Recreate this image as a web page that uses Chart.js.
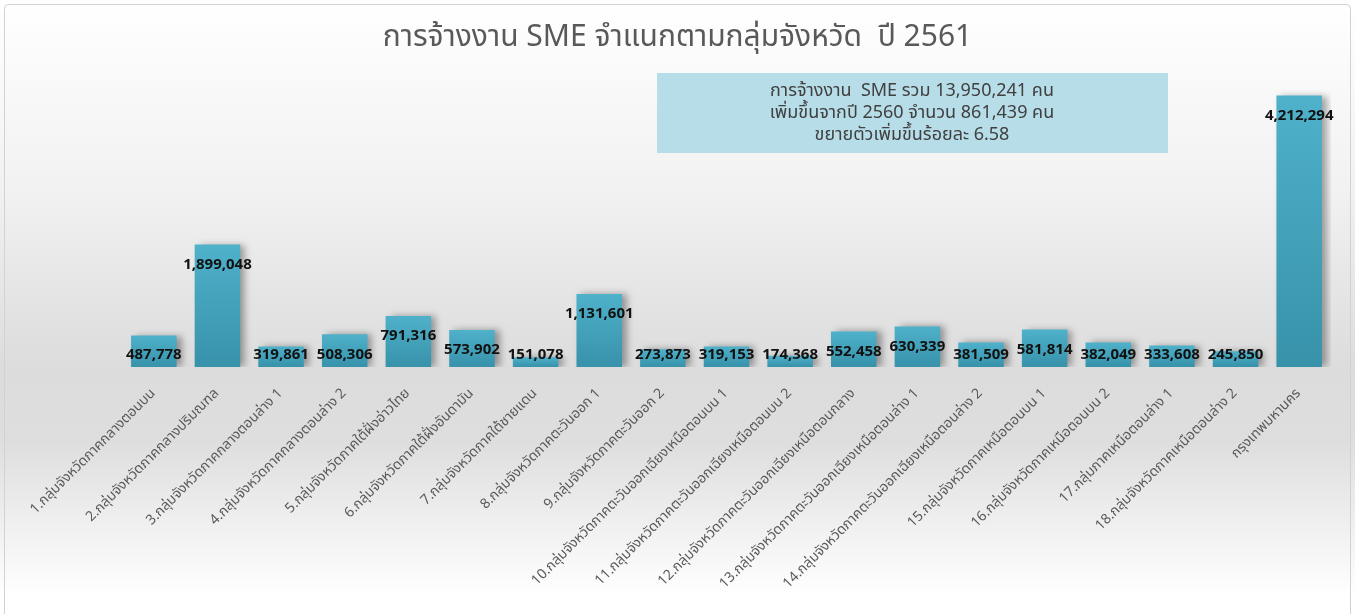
<!DOCTYPE html>
<html>
<head>
<meta charset="utf-8">
<script src="https://cdn.jsdelivr.net/npm/chart.js@4.4.1/dist/chart.umd.min.js"></script>
<style>
  html, body { margin: 0; padding: 0; background: #fff; }
  #wrap { width: 1355px; height: 614px; }
</style>
</head>
<body>
<div id="wrap"><canvas id="myChart" width="1355" height="614"></canvas></div>
<script>
// data
const categories = [
    '1.กลุ่มจังหวัดภาคกลางตอนบน',
    '2.กลุ่มจังหวัดภาคกลางปริมณฑล',
    '3.กลุ่มจังหวัดภาคกลางตอนล่าง 1',
    '4.กลุ่มจังหวัดภาคกลางตอนล่าง 2',
    '5.กลุ่มจังหวัดภาคใต้ฝั่งอ่าวไทย',
    '6.กลุ่มจังหวัดภาคใต้ฝั่งอันดามัน',
    '7.กลุ่มจังหวัดภาคใต้ชายแดน',
    '8.กลุ่มจังหวัดภาคตะวันออก 1',
    '9.กลุ่มจังหวัดภาคตะวันออก 2',
    '10.กลุ่มจังหวัดภาคตะวันออกเฉียงเหนือตอนบน 1',
    '11.กลุ่มจังหวัดภาคตะวันออกเฉียงเหนือตอนบน 2',
    '12.กลุ่มจังหวัดภาคตะวันออกเฉียงเหนือตอนกลาง',
    '13.กลุ่มจังหวัดภาคตะวันออกเฉียงเหนือตอนล่าง 1',
    '14.กลุ่มจังหวัดภาคตะวันออกเฉียงเหนือตอนล่าง 2',
    '15.กลุ่มจังหวัดภาคเหนือตอนบน 1',
    '16.กลุ่มจังหวัดภาคเหนือตอนบน 2',
    '17.กลุ่มภาคเหนือตอนล่าง 1',
    '18.กลุ่มจังหวัดภาคเหนือตอนล่าง 2',
    'กรุงเทพมหานคร'
];
const employment = [
    487778, 1899048, 319861, 508306, 791316, 573902, 151078, 1131601, 273873,
    319153, 174368, 552458, 630339, 381509, 581814, 382049, 333608, 245850, 4212294
];
const titleText = 'การจ้างงาน SME จำแนกตามกลุ่มจังหวัด  ปี 2561';
const noteLines = [
    'การจ้างงาน  SME รวม 13,950,241 คน',
    'เพิ่มขึ้นจากปี 2560 จำนวน 861,439 คน',
    'ขยายตัวเพิ่มขึ้นร้อยละ 6.58'
];

const thaiFont = '"Noto Sans Thai", Tahoma, "Noto Sans", "DejaVu Sans", sans-serif';

// gray gradient behind everything + frame + title
const backdrop = {
    id: 'backdrop',
    beforeDraw(chart) {
        const ctx = chart.ctx;
        const h = chart.height, w = chart.width;
        const g = ctx.createLinearGradient(0, 0, 0, h);
        g.addColorStop(0, '#ffffff');
        g.addColorStop(0.3, '#f2f2f2');
        g.addColorStop(0.6, '#dcdcdc');
        g.addColorStop(0.72, '#dedede');
        g.addColorStop(0.97, '#ffffff');
        ctx.save();
        ctx.fillStyle = g;
        ctx.fillRect(0, 0, w, h);
        ctx.strokeStyle = '#d2d2d2';
        ctx.lineWidth = 1;
        ctx.beginPath();
        ctx.roundRect(4.5, 4.5, w - 9, h + 20, 4);
        ctx.stroke();

        // title, centred on the whole canvas like the original
        ctx.fillStyle = '#595959';
        ctx.font = '30px ' + thaiFont;
        ctx.textAlign = 'center';
        ctx.textBaseline = 'middle';
        ctx.fillText(titleText, w / 2, 40);
        ctx.restore();
    }
};

// soft shadow to the right of the bars
const barShadow = {
    id: 'barShadow',
    beforeDatasetsDraw(chart) {
        const ctx = chart.ctx;
        ctx.save();
        ctx.shadowColor = 'rgba(0,0,0,0.35)';
        ctx.shadowBlur = 7;
        ctx.shadowOffsetX = 5;
        ctx.shadowOffsetY = 0;
    },
    afterDatasetsDraw(chart) {
        chart.ctx.restore();
    }
};

// value labels + the summary box
const barLabels = {
    id: 'barLabels',
    afterDraw(chart) {
        const ctx = chart.ctx;
        const meta = chart.getDatasetMeta(0);
        ctx.save();
        ctx.font = 'bold 15px "Open Sans", "Liberation Sans", sans-serif';
        ctx.fillStyle = '#111111';
        ctx.textAlign = 'center';
        ctx.textBaseline = 'middle';
        meta.data.forEach((bar, i) => {
            const y = Math.min(bar.y + 20, bar.base - 12);
            ctx.fillText(employment[i].toLocaleString('en-US'), bar.x, y);
        });

        // summary box
        ctx.fillStyle = '#b7dde8';
        ctx.fillRect(657, 73, 511, 80);
        ctx.fillStyle = '#404040';
        ctx.font = '18px ' + thaiFont;
        noteLines.forEach((t, n) => {
            ctx.fillText(t, 912, 92 + n * 22);
        });
        ctx.restore();
    }
};

const chart = document.querySelector('#myChart').getContext('2d');
const myChart = new Chart(chart, {
    type: 'bar',
    data: {
        labels: categories,
        datasets: [{
            label: 'การจ้างงาน SME',
            data: employment,
            backgroundColor: (c) => {
                const ch = c.chart;
                if (!ch.chartArea) return '#41a3bd';
                const y = ch.scales.y;
                const top = y.getPixelForValue(c.raw);
                const base = y.getPixelForValue(0);
                const g = ch.ctx.createLinearGradient(0, top, 0, base);
                g.addColorStop(0, '#4fb1ca');
                g.addColorStop(1, '#3792aa');
                return g;
            },
            borderWidth: 0,
            barPercentage: 0.715,
            categoryPercentage: 1
        }]
    },
    options: {
        responsive: false,
        animation: false,
        layout: {
            padding: { left: 122, right: 24, top: 77, bottom: 0 }
        },
        plugins: {
            legend: { display: false },
            tooltip: { enabled: false },
            title: { display: false }
        },
        scales: {
            x: {
                grid: { display: false },
                border: { display: false },
                ticks: {
                    autoSkip: false,
                    minRotation: 45,
                    maxRotation: 45,
                    padding: 11,
                    color: '#595959',
                    font: { family: thaiFont, size: 14 }
                },
                afterFit: (scale) => { scale.height = 247; }
            },
            y: {
                display: false,
                min: 0,
                max: 4500000
            }
        }
    },
    plugins: [backdrop, barShadow, barLabels]
});
</script>
</body>
</html>
